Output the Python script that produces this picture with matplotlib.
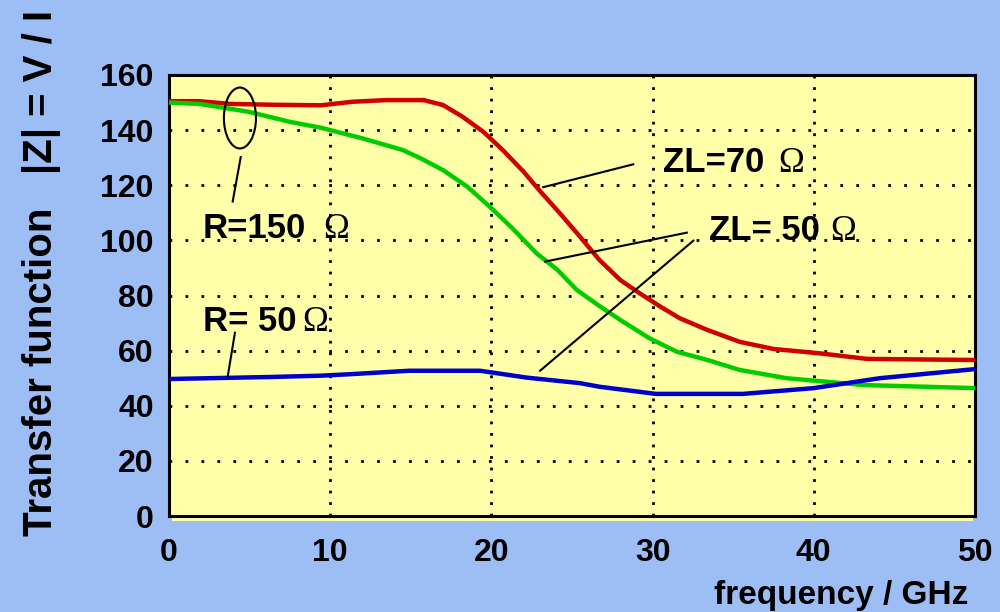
import matplotlib
matplotlib.use("Agg")
import matplotlib.pyplot as plt
from matplotlib.patches import Ellipse, Rectangle

# ---- data ----
red_x = [0, 1.9, 3.8, 6.5, 9.4, 11.4, 13.5, 15.8, 17.0, 18.2, 19.5, 20.7, 22.0, 23.0, 24.3, 25.5, 26.7, 28.0, 29.2, 30.5, 31.7, 33.4, 35.4, 37.5, 40.4, 43.3, 50]
red_y = [150.5, 150.5, 149.5, 149.2, 149.0, 150.3, 150.9, 150.9, 149.1, 144.9, 139.4, 132.8, 124.9, 118.0, 109.5, 101.3, 92.9, 85.6, 80.8, 75.9, 71.7, 67.5, 63.2, 60.6, 59, 57, 56.6]

green_x = [0, 1.9, 4.9, 7.5, 9.4, 12.0, 14.5, 15.6, 17.0, 18.5, 19.9, 21.3, 22.8, 24.1, 25.3, 26.6, 28.0, 29.8, 31.5, 33.4, 35.4, 38.3, 43.1, 50]
green_y = [150, 149.5, 146.7, 143, 140.9, 137.0, 132.8, 129.8, 125.5, 119.5, 112.2, 104.4, 95.3, 89.3, 82.0, 76.6, 71.1, 64.5, 59.6, 56.6, 53.0, 50, 47.5, 46.4]

blue_x = [0, 6.0, 9.4, 11.4, 14.9, 19.3, 22.2, 25.5, 26.7, 30.2, 35.6, 40.0, 44.1, 50]
blue_y = [49.7, 50.4, 50.9, 51.5, 52.7, 52.7, 50.2, 48.2, 46.9, 44.3, 44.3, 46.4, 50, 53.3]

x_ticks = [0, 10, 20, 30, 40, 50]
y_ticks = [0, 20, 40, 60, 80, 100, 120, 140, 160]

BG = "#9DBDF5"
YEL = "#FFFFAA"
FONT = "Liberation Sans"

fig = plt.figure(figsize=(10, 6.12), dpi=100, facecolor=BG)
# slight yellow shadow below the frame
fig.patches.append(Rectangle((172/1000, (612-521)/612), (973-172)/1000, (521-80)/612,
                             transform=fig.transFigure, facecolor=YEL, edgecolor="none", zorder=-1))
ax = fig.add_axes([169/1000, 96/612, (975-169)/1000, 441/612])
ax.set_facecolor(YEL)
ax.set_xlim(0, 50)
ax.set_ylim(0, 160)

for s in ax.spines.values():
    s.set_linewidth(2.2)
    s.set_color("black")
    s.set_zorder(2.5)

ax.set_xticks(x_ticks)
ax.set_yticks(y_ticks)
ax.tick_params(axis="both", length=0)
ax.tick_params(axis="x", pad=16)
ax.tick_params(axis="y", pad=11)
for lab in ax.get_xticklabels() + ax.get_yticklabels():
    lab.set_fontfamily(FONT)
    lab.set_fontweight("bold")
    lab.set_fontsize(23)

ax.grid(True, axis="y", color="black", linewidth=2, linestyle=(0, (1, 4.75)))
ax.grid(True, axis="x", color="black", linewidth=2, linestyle=(0, (1, 3.15)))
ax.set_axisbelow(True)

lw = 3.2
ax.plot(red_x, red_y, color="#D00000", linewidth=lw, zorder=3, clip_on=False, solid_capstyle="butt")
ax.plot(green_x, green_y, color="#00CC00", linewidth=lw, zorder=3, clip_on=False, solid_capstyle="butt")
ax.plot(blue_x, blue_y, color="#0000CC", linewidth=lw, zorder=3, clip_on=False, solid_capstyle="butt")

# annotations
ax.add_patch(Ellipse((4.40, 144.4), 1.99, 22.1, fill=False, edgecolor="black", linewidth=1.5, zorder=4))
ptr = dict(color="black", linewidth=1.5, zorder=4)
ax.plot([4.45, 3.95], [130.2, 114.1], **ptr)
ax.plot([4.09, 3.64], [66.5, 50.5], **ptr)
ax.plot([28.80, 23.22], [127.6, 119.3], **ptr)
ax.plot([32.12, 23.33], [102.8, 92.3], **ptr)
ax.plot([32.53, 23.02], [99.9, 52.7], **ptr)

tkw = dict(fontfamily=FONT, fontweight="bold", fontsize=25, va="baseline", ha="left", zorder=5)
okw = dict(fontfamily="Liberation Serif", fontsize=25, va="baseline", ha="left", zorder=5)
ax.text(2.11, 100.9, "R=150", **tkw)
ax.text(9.55, 100.9, "Ω", **okw)
ax.text(2.11, 67.1, "R= 50", **tkw)
ax.text(8.25, 67.1, "Ω", **okw)
ax.text(30.65, 124.8, "ZL=70", **tkw)
ax.text(37.8, 124.8, "Ω", **okw)
ax.text(33.5, 100.1, "ZL= 50", **tkw)
ax.text(41.0, 100.1, "Ω", **okw)

fig.text(52/1000, (612-272.5)/612, "Transfer function   |Z| = V / I", rotation=90,
         rotation_mode="anchor", ha="center", va="baseline",
         fontfamily=FONT, fontweight="bold", fontsize=29)
fig.text(968/1000, (612-604)/612, "frequency / GHz", ha="right", va="baseline",
         fontfamily=FONT, fontweight="bold", fontsize=24)

fig.savefig("out.png", dpi=100, facecolor=BG)
